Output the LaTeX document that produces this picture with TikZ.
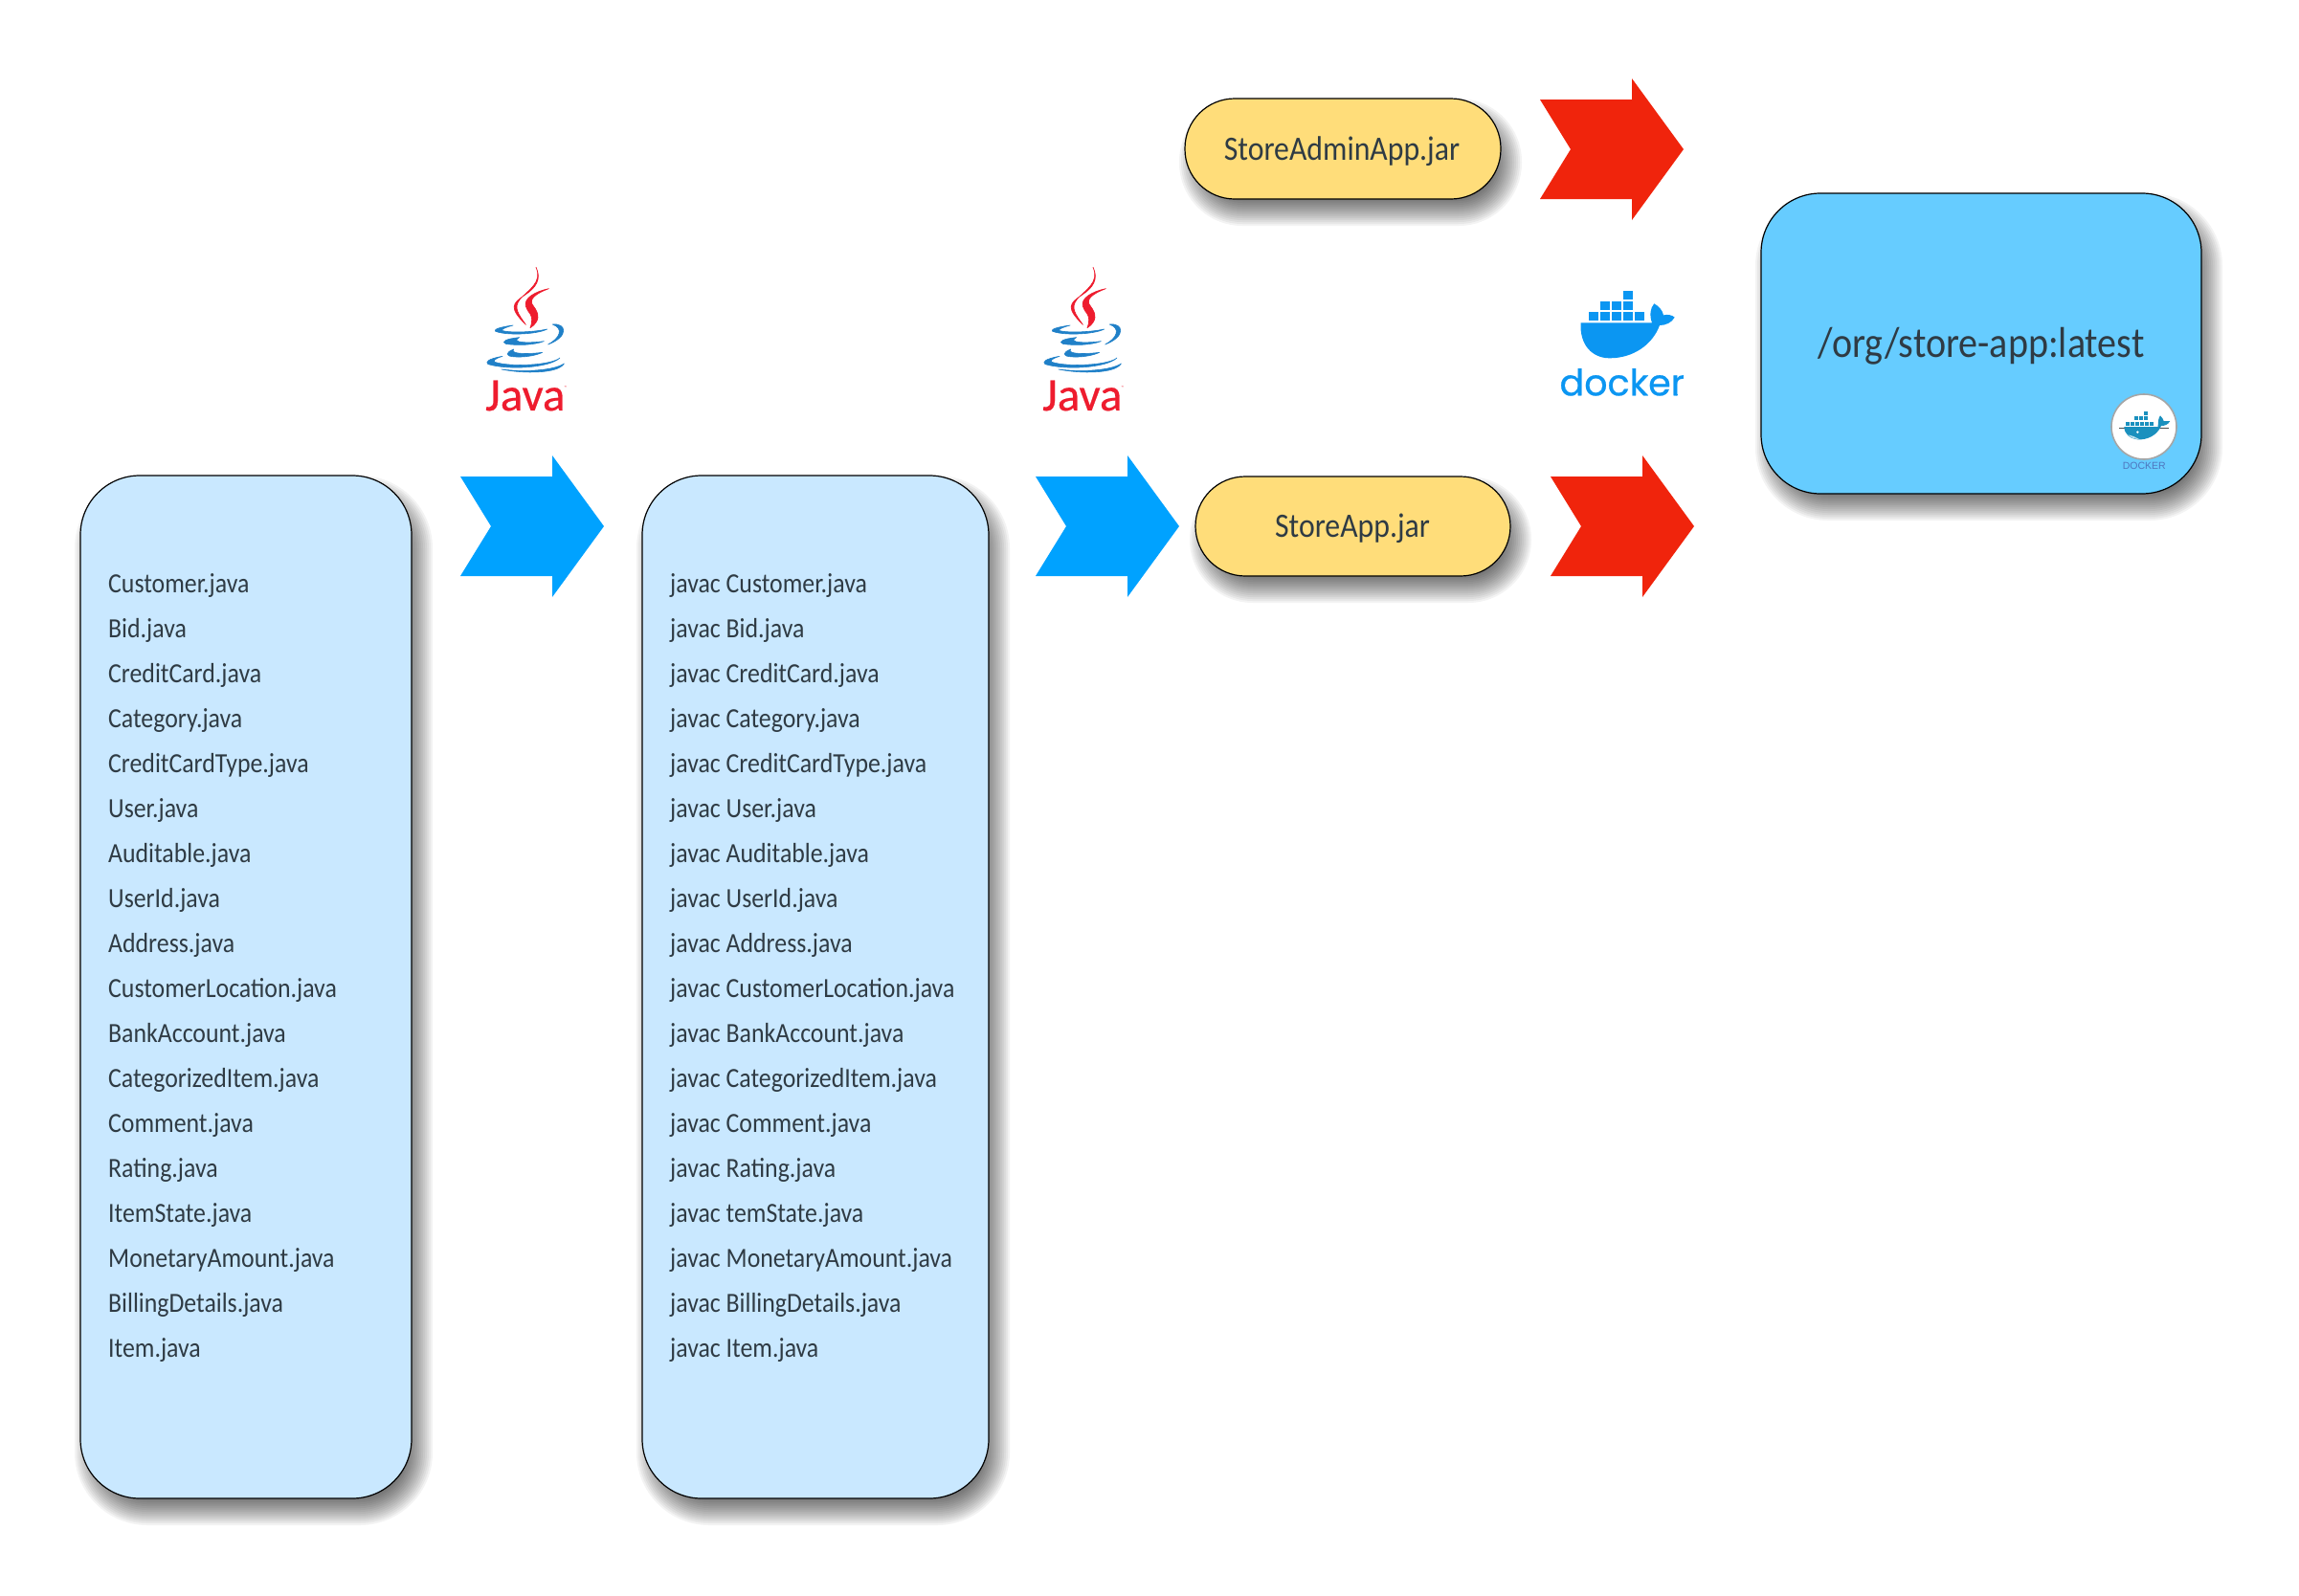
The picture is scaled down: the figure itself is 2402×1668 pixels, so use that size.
\documentclass[tikz,border=0pt]{standalone}
\usepackage{fontspec}
\setmainfont[FakeStretch=0.89]{Carlito}
\newfontfamily\javafont[FakeBold=0.5]{Carlito}
\newfontfamily\dockerfont[FakeBold=0.6]{Poppins}
\newfontfamily\helv{Liberation Sans}
\definecolor{listblue}{HTML}{C9E8FF}
\definecolor{pillyellow}{HTML}{FFDD7A}
\definecolor{arrred}{HTML}{F0240C}
\definecolor{arrblue}{HTML}{00A2FF}
\definecolor{imgblue}{HTML}{66CCFF}
\definecolor{txtdark}{HTML}{2F3B44}
\definecolor{javared}{HTML}{EE1C2E}
\definecolor{javablue}{HTML}{1F80C8}
\definecolor{dockblue}{HTML}{0B96F2}
\definecolor{smallwhale}{HTML}{1A90BE}
\definecolor{smalltxt}{HTML}{4F76BE}
\tikzset{
  x=1pt,y=-1pt,
  card/.style={draw=black,line width=1.2pt,rectangle,inner sep=0pt},
  item/.style={anchor=base west,inner sep=0pt,text=txtdark,font=\fontsize{29}{32}\selectfont},
  pilltext/.style={anchor=base,inner sep=0pt,text=txtdark,font=\fontsize{35.7}{38}\selectfont},
  imagetext/.style={anchor=base,inner sep=0pt,text=txtdark,font=\fontsize{45}{48}\selectfont},
}
% shadow + node
\newcommand\softbox[7]{% name x0 y0 x1 y1 r fill
  \foreach \k in {0,...,14}{
    \pgfmathsetmacro\ins{-14+2*\k}
    \pgfmathsetmacro\rr{max(#6-\ins,4)}
    \fill[black,opacity=.047,rounded corners=\rr pt]
      ({#2+8+\ins},{#3+14+\ins}) rectangle ({#4+8-\ins},{#5+14-\ins});
  }
  \pgfmathsetmacro\cx{(#2+#4)/2}\pgfmathsetmacro\cy{(#3+#5)/2}
  \pgfmathsetmacro\ww{#4-#2}\pgfmathsetmacro\hh{#5-#3}
  \node[card,fill=#7,rounded corners=#6 pt,minimum width=\ww pt,minimum height=\hh pt] (#1) at (\cx,\cy) {};
}
\newcommand\chevron[3]{% x of left, y of tip, colour
  \fill[#3] ({#1},{#2-52}) -- ({#1+96},{#2-52}) -- ({#1+96},{#2-74}) -- ({#1+150},{#2})
    -- ({#1+96},{#2+74}) -- ({#1+96},{#2+52}) -- ({#1},{#2+52}) -- ({#1+32},{#2}) -- cycle;
}
\newcommand\javalogo[3]{% name, x, y offset
  \begin{scope}[shift={(#2,#3)},x=0.3333pt,y=-0.3333pt]
    \filldraw[javared,line width=.7pt,line join=round] (300,58) .. controls (318,95) and (300,122) .. (265,145)
      .. controls (225,172) and (215,185) .. (268,238)
      .. controls (245,205) and (228,185) .. (250,158)
      .. controls (275,130) and (322,105) .. (300,58) -- cycle;
    \filldraw[javared,line width=.7pt,line join=round] (340,125) .. controls (295,135) and (262,155) .. (268,180)
      .. controls (272,200) and (298,205) .. (282,248)
      .. controls (312,228) and (312,205) .. (292,180)
      .. controls (275,160) and (295,142) .. (340,125) -- cycle;
    \begin{scope}[line width=.6pt,line join=round]
    \filldraw[javablue] (228,240) .. controls (190,245) and (168,252) .. (172,258)
      .. controls (200,272) and (300,270) .. (335,252)
      .. controls (290,262) and (215,264) .. (192,256)
      .. controls (195,250) and (210,245) .. (228,240) -- cycle;
    \filldraw[javablue] (352,237) .. controls (395,232) and (405,275) .. (338,300)
      .. controls (375,280) and (388,250) .. (352,237) -- cycle;
    \filldraw[javablue] (248,278) .. controls (205,282) and (190,292) .. (205,298)
      .. controls (240,304) and (295,302) .. (325,290)
      .. controls (285,296) and (215,296) .. (248,278) -- cycle;
    \filldraw[javablue] (230,315) .. controls (205,325) and (205,335) .. (225,338)
      .. controls (260,342) and (300,335) .. (320,325)
      .. controls (285,330) and (215,332) .. (230,315) -- cycle;
    \filldraw[javablue] (195,337) .. controls (150,345) and (140,355) .. (150,362)
      .. controls (210,380) and (340,375) .. (375,342)
      .. controls (350,365) and (220,372) .. (170,355)
      .. controls (165,350) and (175,343) .. (195,337) -- cycle;
    \filldraw[javablue] (192,378) .. controls (260,392) and (370,392) .. (388,360)
      .. controls (360,380) and (270,388) .. (192,378) -- cycle;
    \end{scope}
    \node[anchor=base west,inner sep=0pt,text=javared,font=\javafont\fontsize{49}{50}\selectfont] (#1) at (141,507) {Java};
    \node[anchor=base west,inner sep=0pt,text=javared,font=\fontsize{4}{4}\selectfont] (#1tm) at (388,441) {™};
  \end{scope}
}
\begin{document}
\begin{tikzpicture}
\useasboundingbox (0,0) rectangle (2402,1668);
\fill[white] (0,0) rectangle (2402,1668);

\softbox{srcbox}{84}{497}{430}{1566}{62}{listblue}
\softbox{cmdbox}{671}{497}{1033}{1566}{62}{listblue}
\softbox{adminjar}{1238}{103}{1568}{208}{52}{pillyellow}
\softbox{appjar}{1249}{498}{1578}{602}{52}{pillyellow}
\softbox{image}{1840}{202}{2300}{516}{62}{imgblue}
\node[pilltext] (adminlabel) at (1402,167) {StoreAdminApp.jar};
\node[pilltext] (applabel) at (1413,561) {StoreApp.jar};
\node[imagetext] (imagelabel) at (2070,373) {/org/store-app:latest};

\foreach \t [count=\i] in {Customer.java,Bid.java,CreditCard.java,Category.java,CreditCardType.java,User.java,Auditable.java,UserId.java,Address.java,CustomerLocation.java,BankAccount.java,CategorizedItem.java,Comment.java,Rating.java,ItemState.java,MonetaryAmount.java,BillingDetails.java,Item.java}{
  \pgfmathsetmacro\yy{619+47.05*(\i-1)}
  \node[item] (src\i) at (113,\yy) {\t};
}
\foreach \t [count=\i] in {javac Customer.java,javac Bid.java,javac CreditCard.java,javac Category.java,javac CreditCardType.java,javac User.java,javac Auditable.java,javac UserId.java,javac Address.java,javac CustomerLocation.java,javac BankAccount.java,javac CategorizedItem.java,javac Comment.java,javac Rating.java,javac temState.java,javac MonetaryAmount.java,javac BillingDetails.java,javac Item.java}{
  \pgfmathsetmacro\yy{619+47.05*(\i-1)}
  \node[item] (cmd\i) at (700,\yy) {\t};
}

\chevron{481}{550}{arrblue}
\chevron{1082}{550}{arrblue}
\chevron{1609}{156}{arrred}
\chevron{1620}{550}{arrred}

\javalogo{javaA}{460}{260}
\javalogo{javaB}{1042}{260}

% docker logo
\begin{scope}[shift={(1600,280)},x=0.3333pt,y=-0.3333pt]
  \foreach \a in {180,216,252,288,324}{\fill[dockblue] (\a,139) rectangle +(29,26);}
  \foreach \a in {216,252,288}{\fill[dockblue] (\a,106) rectangle +(29,26);}
  \fill[dockblue] (288,72) rectangle +(29,26);
  \fill[dockblue] (155,172) -- (378,172)
    .. controls (370,150) and (372,125) .. (385,112)
    .. controls (400,120) and (412,135) .. (414,148)
    .. controls (428,145) and (442,148) .. (449,155)
    .. controls (440,172) and (420,180) .. (402,180)
    .. controls (380,240) and (320,283) .. (245,283)
    .. controls (190,283) and (150,240) .. (155,172) -- cycle;
  \node[anchor=base west,inner sep=0pt,text=dockblue,font=\dockerfont\fontsize{38}{40}\selectfont] (dockertext) at (88,400) {docker};
  \fill[dockblue] (456,398) circle (3);
\end{scope}

% small docker badge
\node[circle,draw=black!35,line width=1.6pt,fill=white,minimum size=68pt,inner sep=0pt] (badge) at (2240,446) {};
\begin{scope}[shift={(2180,390)},x=0.3333pt,y=-0.3333pt]
  \foreach \a in {120,135,150,165,180,195}{\fill[smallwhale,draw=white,line width=.2pt] (\a,150) rectangle +(14,15);}
  \foreach \a in {147,162,177}{\fill[smallwhale,draw=white,line width=.2pt] (\a,133) rectangle +(14,15);}
  \fill[smallwhale,draw=white,line width=.2pt] (177,117) rectangle +(14,15);
  \draw[black!70,line width=.5pt] (102,172) -- (258,172);
  \fill[smallwhale] (118,168) -- (224,168) .. controls (224,150) and (226,140) .. (231,133)
     .. controls (238,140) and (241,146) .. (242,150) -- (262,150)
     .. controls (255,162) and (245,165) .. (234,165)
     .. controls (222,195) and (190,210) .. (160,208)
     .. controls (135,205) and (118,190) .. (118,168) -- cycle;
  \fill[white!70!smallwhale] (130,193) .. controls (145,197) and (155,200) .. (165,207) .. controls (150,207) and (138,202) .. (130,193) -- cycle;
  \fill[white] (160,185) circle (4);
  \node[anchor=base,inner sep=0pt,text=smalltxt,font=\helv\fontsize{10.5}{11}\selectfont] (badgetext) at (181,302) {DOCKER};
\end{scope}
\end{tikzpicture}
\end{document}
